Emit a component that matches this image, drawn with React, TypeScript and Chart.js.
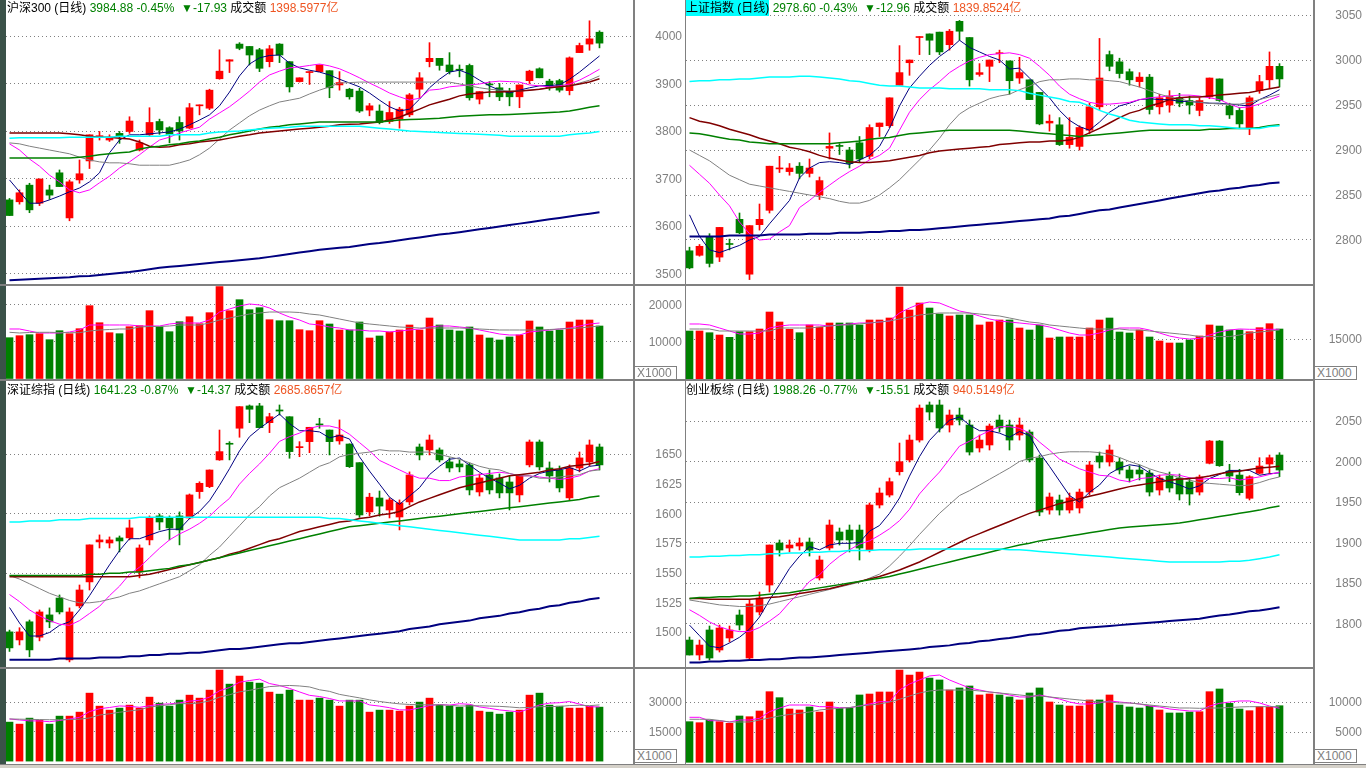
import React, { useEffect, useRef } from "react";
import { Chart, registerables } from "chart.js";

Chart.register(...registerables);

// ---------------- 沪深300 ----------------
const hs300Open = [3655,3651,3686,3648,3676,3712,3617,3697,3737,3788,3781,3795,3799,3760,3792,3820,3807,3818,3806,3853,3848,3910,3947,3983,3978,3971,3946,3983,3946,3904,3923,3925,3927,3897,3888,3884,3844,3842,3820,3825,3834,3888,3946,3953,3939,3930,3938,3867,3899,3891,3883,3872,3906,3931,3905,3906,3885,3965,3983,4008];
const hs300High = [3658,3676,3690,3699,3686,3718,3697,3739,3792,3799,3792,3799,3830,3781,3849,3825,3809,3830,3858,3855,3888,3971,3950,3986,3978,3974,3980,3984,3946,3912,3925,3939,3927,3925,3890,3890,3858,3855,3862,3850,3879,3923,3986,3953,3965,3939,3941,3883,3904,3900,3890,3897,3928,3933,3909,3909,3956,3985,4032,4011];
const hs300Low = [3622,3646,3628,3643,3656,3683,3611,3690,3721,3781,3778,3774,3795,3758,3790,3793,3775,3781,3805,3834,3845,3909,3923,3971,3939,3925,3935,3944,3882,3903,3898,3925,3870,3886,3867,3839,3832,3815,3816,3806,3830,3870,3935,3928,3920,3914,3865,3857,3872,3864,3853,3849,3900,3912,3886,3882,3876,3965,3970,3975];
const hs300Close = [3622,3670,3634,3699,3665,3683,3693,3710,3792,3790,3785,3788,3821,3775,3818,3802,3793,3800,3849,3855,3886,3926,3950,3974,3960,3932,3973,3960,3893,3912,3925,3939,3891,3902,3872,3842,3853,3818,3839,3846,3876,3912,3953,3938,3925,3928,3870,3883,3897,3872,3872,3897,3926,3912,3891,3886,3954,3980,3994,3985];
const hs300Ma5 = [3697,3672,3648,3648,3655,3663,3672,3680,3693,3712,3754,3781,3792,3792,3794,3796,3798,3804,3813,3823,3834,3853,3882,3916,3941,3954,3959,3960,3943,3933,3928,3924,3918,3909,3901,3893,3880,3865,3851,3842,3846,3867,3891,3909,3924,3928,3920,3907,3895,3886,3880,3886,3891,3895,3896,3897,3909,3924,3941,3958];
const hs300Ma10 = [3773,3760,3741,3726,3707,3693,3676,3670,3676,3691,3705,3722,3735,3750,3766,3781,3787,3796,3802,3808,3825,3838,3851,3867,3884,3903,3918,3926,3933,3935,3938,3941,3937,3931,3922,3912,3901,3891,3880,3872,3865,3869,3886,3888,3893,3895,3897,3899,3903,3905,3904,3903,3897,3895,3893,3895,3899,3907,3918,3930];
const hs300Ma20 = [3775,3773,3768,3764,3760,3756,3752,3745,3739,3735,3733,3733,3731,3728,3728,3728,3728,3733,3739,3750,3764,3783,3802,3817,3832,3844,3853,3861,3865,3869,3878,3886,3893,3901,3902,3903,3903,3903,3903,3903,3903,3903,3903,3903,3903,3899,3895,3891,3888,3886,3884,3884,3886,3888,3891,3893,3895,3901,3907,3916];
const hs300Ma30 = [3796,3796,3796,3796,3796,3796,3794,3792,3789,3787,3787,3785,3783,3777,3768,3766,3767,3771,3773,3777,3779,3781,3785,3789,3792,3796,3798,3800,3802,3804,3806,3808,3810,3813,3814,3815,3817,3819,3823,3829,3838,3846,3855,3861,3867,3874,3878,3880,3882,3882,3883,3884,3886,3888,3891,3893,3895,3899,3903,3910];
const hs300Ma60 = [3743,3743,3743,3743,3743,3743,3743,3745,3747,3750,3752,3754,3756,3762,3766,3768,3771,3773,3777,3779,3783,3787,3792,3796,3800,3804,3808,3810,3813,3815,3817,3819,3819,3819,3819,3819,3819,3819,3821,3823,3824,3825,3826,3827,3829,3831,3832,3833,3834,3834,3835,3836,3837,3838,3839,3840,3842,3846,3850,3853];
const hs300Ma120 = [3785,3786,3786,3786,3786,3786,3787,3787,3787,3787,3787,3789,3789,3789,3789,3789,3792,3792,3792,3792,3796,3798,3799,3800,3802,3804,3806,3807,3808,3810,3810,3810,3810,3810,3810,3810,3808,3806,3804,3802,3800,3799,3798,3797,3796,3795,3794,3793,3792,3791,3789,3789,3789,3789,3789,3789,3792,3794,3796,3799];
const hs300Ma250 = [3486,3487,3488,3489,3490,3491,3492,3494,3495,3497,3499,3501,3503,3506,3509,3512,3514,3516,3518,3520,3522,3524,3526,3528,3530,3532,3535,3538,3541,3544,3547,3550,3552,3554,3556,3559,3562,3564,3567,3570,3573,3576,3579,3582,3584,3587,3590,3593,3596,3599,3602,3605,3608,3611,3614,3617,3620,3623,3626,3629];
const hs300Vol = [11030,11570,11840,12110,10490,12920,12110,13460,19680,15080,12380,12110,14000,14270,18330,14000,12650,15350,16700,14810,17790,24810,18330,21300,18600,19140,15890,15620,15620,13190,12920,15620,14730,13110,13110,15270,10950,11490,12570,13110,14460,13110,16350,14460,13110,12840,13920,11760,10950,10410,11220,11760,15540,13920,12840,13110,15270,15810,15810,14190];
const hs300VolMa5 = [13380,13380,12840,12300,12300,12300,12570,13110,14460,14460,14460,14460,14460,14190,14190,14190,14730,15000,15000,15000,15810,17970,18790,19600,20140,19870,19060,17700,16620,15810,14730,14460,13920,13650,13110,13110,12840,12840,12570,12840,13110,13380,13920,14190,14190,13920,13650,13110,12570,12030,11760,11760,12570,12840,13110,13380,13650,14190,14730,15000];
const hs300VolMa10 = [12490,12300,12430,12490,12490,12430,12380,12380,12840,13110,13240,13380,13380,13920,14060,14060,14190,14460,14460,14460,15000,15810,16350,16890,17430,17700,17970,17970,17970,17840,17430,17160,16620,16080,15540,15000,14730,14460,14190,13920,13790,13650,13650,13650,13650,13650,13510,13380,13240,13110,13110,13110,13110,13110,13240,13380,13510,13650,13920,14190];

// ---------------- 上证指数 ----------------
const shOpen = [2788,2783,2804,2781,2796,2823,2762,2817,2833,2879,2876,2882,2874,2850,2902,2905,2900,2908,2893,2926,2927,2972,2997,3025,3029,3031,3017,3043,3025,2984,2993,3007,2999,2980,2978,2964,2930,2928,2906,2904,2922,2948,3006,2998,2987,2976,2981,2948,2950,2958,2955,2944,2959,2979,2949,2944,2924,2966,2978,2993];
const shHigh = [2792,2795,2807,2814,2801,2830,2816,2840,2882,2893,2885,2886,2890,2870,2919,2907,2903,2915,2928,2930,2958,3016,3000,3026,3029,3031,3034,3044,3025,2996,3000,3011,2999,3003,2978,2964,2939,2936,2936,2927,2952,3024,3010,3002,2990,2986,2984,2962,2966,2963,2960,2958,2980,2979,2952,2947,2960,2983,3009,2996];
const shLow = [2768,2782,2770,2776,2789,2807,2756,2811,2830,2875,2872,2868,2870,2845,2890,2895,2880,2886,2890,2915,2925,2972,2983,3006,3006,3006,3011,3022,2971,2982,2976,2997,2962,2974,2956,2928,2921,2905,2902,2900,2918,2945,2988,2980,2972,2970,2940,2940,2942,2948,2940,2938,2957,2954,2935,2924,2917,2963,2969,2970];
const shClose = [2769,2793,2774,2814,2795,2808,2816,2823,2882,2880,2880,2874,2880,2866,2904,2904,2885,2890,2925,2930,2958,2986,3000,3026,3022,3009,3032,3032,2978,2986,3000,3008,2977,2986,2956,2929,2932,2906,2914,2925,2948,2980,2993,2985,2978,2981,2945,2958,2960,2952,2950,2955,2980,2955,2939,2929,2958,2976,2993,2979];
const shMa5 = [2828,2804,2789,2786,2790,2794,2800,2804,2818,2831,2844,2869,2880,2886,2887,2886,2884,2889,2894,2904,2924,2949,2969,2982,2994,3004,3012,3022,3014,3009,3004,3000,2990,2991,2980,2969,2958,2944,2933,2926,2922,2931,2942,2949,2952,2956,2957,2956,2956,2954,2954,2953,2952,2952,2951,2950,2949,2956,2961,2967];
const shMa10 = [2883,2873,2863,2850,2838,2820,2807,2800,2801,2809,2816,2836,2844,2853,2861,2869,2876,2882,2889,2894,2902,2922,2942,2956,2967,2976,2986,2993,2999,3003,3006,3007,3008,3006,3002,2993,2983,2971,2962,2957,2953,2951,2951,2952,2953,2956,2958,2959,2960,2961,2961,2960,2958,2956,2951,2947,2948,2951,2956,2960];
const shMa20 = [2900,2894,2888,2880,2872,2867,2862,2860,2858,2856,2854,2852,2850,2848,2846,2843,2841,2841,2844,2850,2858,2867,2878,2889,2900,2913,2928,2940,2947,2952,2957,2960,2962,2967,2971,2976,2978,2978,2979,2979,2978,2978,2977,2976,2973,2970,2966,2962,2959,2957,2954,2953,2952,2951,2951,2951,2953,2956,2959,2962];
const shMa30 = [2936,2932,2930,2927,2923,2920,2917,2913,2910,2907,2903,2901,2898,2894,2891,2889,2887,2886,2886,2887,2888,2890,2892,2894,2897,2899,2900,2901,2902,2903,2904,2906,2907,2908,2909,2909,2910,2910,2911,2914,2919,2924,2930,2936,2941,2944,2949,2952,2956,2958,2959,2959,2960,2961,2962,2963,2964,2966,2968,2970];
const shMa60 = [2919,2918,2916,2914,2912,2911,2909,2908,2907,2907,2907,2907,2907,2907,2907,2908,2909,2910,2912,2913,2914,2916,2918,2919,2920,2921,2922,2922,2922,2922,2922,2922,2922,2921,2920,2919,2918,2917,2916,2915,2916,2917,2918,2919,2920,2921,2922,2922,2922,2922,2922,2922,2923,2923,2924,2924,2924,2925,2927,2928];
const shMa120 = [2976,2977,2977,2978,2978,2979,2979,2980,2981,2981,2981,2982,2982,2981,2980,2979,2977,2976,2974,2972,2971,2971,2970,2969,2969,2969,2968,2968,2968,2968,2967,2967,2967,2966,2963,2961,2959,2957,2954,2953,2949,2944,2940,2937,2933,2931,2930,2929,2928,2928,2928,2927,2927,2926,2925,2924,2924,2924,2926,2927];
const shMa250 = [2804,2804,2804,2804,2805,2805,2805,2805,2806,2806,2806,2806,2807,2807,2807,2808,2808,2808,2809,2809,2810,2810,2811,2811,2812,2813,2814,2815,2816,2817,2818,2819,2820,2821,2822,2823,2824,2826,2827,2829,2831,2833,2834,2836,2838,2840,2842,2844,2846,2848,2850,2852,2854,2855,2857,2858,2860,2861,2863,2864];
const shVol = [17960,17960,17330,16480,15630,17700,17700,18700,25000,21300,18590,17330,20190,19440,20930,20930,20930,20190,22040,22040,22780,34260,25740,28330,26480,24260,23520,23890,23890,20190,21300,22040,22040,19070,18330,20190,15370,15740,15740,15740,19070,22040,22780,17590,17220,18330,15740,14260,13520,13520,14630,16110,20190,19810,18330,18330,17700,19190,20670,18700];
const shVolMa5 = [20560,20560,20190,19070,17960,16850,16850,17220,19070,19810,20190,20190,20190,20190,19810,20190,20560,20930,20930,21300,21670,24630,26480,27960,28700,28330,26850,25370,24630,23520,22410,21670,21300,20930,20560,20190,19440,18330,17220,16480,16480,17220,18330,19070,19070,19070,18330,17220,16110,15370,15000,15260,16480,17590,18330,18700,18590,18590,18590,18590];
const shVolMa10 = [18700,18700,18700,17960,17960,17960,17960,17960,17960,19070,19070,19070,19070,19440,19810,20190,20190,20560,20930,21300,21670,22410,23150,23890,24260,24630,24630,24630,24630,24260,23890,23520,22780,22040,21300,20930,20190,19810,19440,19070,18700,18700,18700,18700,18330,18330,17960,17590,17220,16850,16480,15890,15890,15890,15890,16480,17220,17590,17960,18330];

// ---------------- 深证综指 ----------------
const szOpen = [1500.5,1493.7,1509,1496,1514.8,1529,1476.9,1522.4,1542.6,1576.3,1575.4,1579.7,1579.7,1551,1578,1598.2,1596.5,1598.2,1596.5,1618.7,1622.9,1645.4,1659.4,1672.1,1690.9,1690.9,1676.8,1687.5,1681.8,1655.7,1660.8,1675.7,1670.6,1661.4,1658.8,1643.1,1601.6,1613.3,1603.2,1597.3,1610,1656.3,1653.8,1653.8,1643.7,1642,1641.2,1618.4,1632.7,1630.2,1626.8,1615.9,1641.2,1660.5,1638.6,1636.9,1613.4,1638.6,1643.7,1656.3];
const szHigh = [1502,1504,1510.5,1519,1520.7,1531.6,1520.7,1540,1573.8,1582.2,1580.5,1581.3,1594.8,1573.8,1598.2,1599.9,1598.2,1601.6,1616.7,1627,1637,1670.6,1660.8,1690.3,1691.7,1693.1,1684.7,1691.7,1681.8,1660.8,1672.9,1680.5,1670.6,1679.1,1659,1643.1,1617.3,1619.2,1613.4,1611.7,1635.3,1658.8,1666.4,1655.5,1647.1,1645.4,1642.8,1633.6,1636.9,1633.6,1631.9,1632.7,1662.2,1662.2,1643.7,1640.3,1641.2,1652.1,1662.2,1658.8];
const szLow = [1484,1489.5,1479.5,1492.9,1504,1515.6,1475.2,1520.7,1535.8,1571.2,1571.2,1567.9,1578,1546,1573.8,1586.4,1578,1573.8,1595.7,1613,1622,1645,1645.4,1664.5,1676.8,1672.6,1668.4,1683.3,1646.8,1648.1,1651.5,1672.1,1649.6,1658.6,1639,1597,1598.2,1598,1596.5,1586.4,1607.5,1645.4,1649.6,1643.7,1635.3,1635.3,1615.9,1615,1616.7,1613.4,1603.2,1610,1639.5,1636.9,1626.8,1618.4,1611.7,1635.3,1640.3,1636.9];
const szClose = [1487,1500.5,1485.3,1517.3,1508.9,1517.3,1517.3,1535.8,1573.8,1578,1578,1577.1,1588.1,1571.2,1596.5,1593.1,1588.1,1586.4,1615.9,1625.7,1636.9,1652.4,1658.6,1690.3,1688.1,1672.6,1681.8,1686.6,1652.4,1656.6,1672.9,1674.9,1660.8,1666.4,1639.7,1599,1614,1606.5,1611.7,1609.2,1632.7,1649.6,1662.2,1645.4,1638.6,1639.5,1620.1,1630.2,1620.1,1617.6,1617.6,1632.7,1660.5,1639.5,1631.9,1621.8,1638.6,1647.1,1658,1641.2];
const szMa5 = [1521,1508,1497,1497,1500,1506,1509,1519,1531,1544,1557,1569,1579,1579,1582,1585,1587,1587,1596,1602,1611,1624,1638,1653,1665,1672,1678,1684,1676,1670,1670,1669,1664,1666,1663,1648,1636,1625,1614,1608,1615,1622,1633,1640,1646,1647,1641,1635,1630,1626,1621,1624,1630,1634,1636,1637,1639,1636,1640,1641];
const szMa10 = [1532,1526,1519,1514,1510,1507,1506,1510,1516,1522,1531,1539,1549,1555,1563,1571,1578,1583,1587,1592,1598,1606,1613,1625,1634,1642,1651,1661,1665,1668,1672,1674,1674,1672,1667,1660,1653,1645,1641,1637,1633,1630,1630,1628,1628,1631,1632,1633,1634,1635,1634,1632,1632,1631,1630,1629,1630,1632,1636,1638];
const szMa20 = [1548,1545,1541,1537,1533,1530,1527,1525,1525,1526,1528,1530,1533,1535,1538,1541,1544,1547,1552,1557,1565,1572,1581,1590,1599,1606,1615,1622,1626,1630,1635,1640,1643,1648,1650,1651,1652,1654,1653,1653,1652,1652,1652,1650,1648,1646,1643,1640,1638,1637,1634,1632,1632,1630,1630,1631,1632,1633,1636,1637];
const szMa30 = [1547,1547,1547,1547,1547,1547,1547,1547,1547,1547,1547,1547,1547,1548,1549,1551,1553,1555,1557,1559,1561,1563,1566,1568,1571,1574,1577,1579,1582,1585,1587,1589,1591,1593,1594,1596,1597,1599,1600,1602,1606,1610,1613,1616,1619,1622,1624,1626,1628,1630,1632,1633,1634,1635,1637,1638,1640,1641,1642,1644];
const szMa60 = [1548,1548,1548,1548,1548,1548,1548,1548,1549,1549,1550,1550,1551,1551,1552,1553,1554,1556,1557,1559,1561,1563,1565,1567,1569,1571,1573,1575,1577,1579,1581,1583,1585,1587,1589,1590,1591,1592,1593,1594,1595,1596,1597,1598,1599,1600,1601,1602,1603,1604,1605,1606,1607,1608,1609,1610,1611,1612,1614,1615];
const szMa120 = [1593,1593,1594,1594,1594,1595,1595,1595,1596,1596,1596,1596,1596,1597,1597,1597,1597,1597,1597,1597,1597,1597,1597,1597,1597,1597,1597,1597,1597,1597,1597,1597,1596,1596,1595,1594,1593,1592,1591,1590,1589,1588,1587,1586,1585,1584,1583,1582,1581,1580,1579,1578,1578,1578,1578,1578,1579,1579,1580,1581];
const szMa250 = [1477,1477,1477,1477,1477,1478,1478,1478,1478,1479,1479,1479,1480,1480,1481,1481,1482,1482,1483,1483,1484,1485,1486,1486,1487,1488,1489,1490,1491,1491,1492,1493,1494,1495,1496,1497,1498,1499,1500,1501,1503,1504,1505,1507,1508,1509,1510,1512,1513,1514,1516,1517,1519,1520,1522,1523,1525,1526,1528,1529];
const szVol = [19890,18870,21930,20910,18870,22950,22950,24990,34680,28050,26010,27030,28560,27030,32640,29580,28050,31110,33660,32130,36210,46410,39270,43350,40290,39780,35190,34170,36210,31110,31110,32130,31110,28050,31110,31110,24990,26010,26010,25500,28050,30090,32130,28560,28050,27540,28560,25500,24990,23970,24990,26010,33660,34680,28560,28050,27030,27030,28050,27540];
const szVolMa5 = [21500,21000,20500,20500,20100,20700,21500,22330,25250,26720,27340,28140,27930,27440,28250,28970,29180,29680,30610,31010,32630,35900,37540,40250,41100,41820,39570,38570,37110,35290,33560,32940,31930,30700,30700,30700,28670,28050,27240,26120,26110,27130,28350,28870,28560,29270,28970,27640,26930,26110,25600,25090,26720,28660,29580,29790,30390,29070,27740,27640];
const szVolMa10 = [21500,21400,21300,21200,21100,21100,21200,21400,22000,23510,24120,24930,25590,26200,27580,28240,28750,29360,29260,29670,30690,32630,33850,35330,36090,37110,38020,38330,38590,38340,37830,36400,35580,34050,33130,32260,31240,30420,29760,29200,28900,28700,28700,28750,28450,28100,28160,28210,28080,27930,27620,27210,27360,27770,27830,27880,28330,28480,28300,28660];

// ---------------- 创业板综 ----------------
const cyOpen = [1779.6,1761.1,1792,1767.3,1782.1,1810.5,1757.4,1814.2,1847.5,1899.4,1893.2,1895.7,1900.6,1856.2,1893.2,1913,1915.4,1915.4,1890.7,1946.3,1958.6,1987.4,2001.9,2026.5,2069.8,2069.8,2045.1,2057.4,2045.1,2016.7,2020.4,2051.2,2045.1,2032.7,2036.4,2004.3,1940.1,1952.5,1940.1,1942.6,1962.3,2006.8,1999.4,1999.4,1989.5,1989.5,1985.8,1964.8,1982.1,1979.6,1974.7,1962.3,1997.8,2025.3,1988.3,1983.3,1954.6,1985.4,1996.9,2008];
const cyHigh = [1783.3,1779.6,1796.9,1798.1,1796.9,1816.7,1829,1838.9,1896.9,1903.1,1903.1,1905.6,1905.6,1883.3,1927.8,1917.9,1921.6,1921.6,1948.8,1967.3,1979.6,2022.8,2032.7,2069.8,2073.5,2075.9,2063.6,2066,2051.2,2032.7,2046.3,2057.4,2051.2,2053.7,2038.9,2008,1961.1,1958.6,1961.1,1966,2000,2011.7,2020.4,2004.3,1994.4,1995.7,1989.5,1983.3,1987,1984.6,1979.6,1983.3,2026,2026,1996.5,1990.4,1982.5,2004.7,2008,2010.9];
const cyLow = [1761.1,1755,1755,1764.8,1777.2,1792,1755,1810.5,1838.9,1883.3,1888.3,1890.7,1883.3,1853.7,1890.7,1896.9,1888.3,1878.4,1888.3,1942.6,1956.2,1983.3,1999.4,2024,2051.2,2036.4,2036.4,2045.1,2008,2011.7,2014.2,2036.4,2014.2,2026.5,1999.4,1933,1935,1933.9,1936.4,1936.4,1958.6,1992,1994.4,1984.6,1974.7,1977.2,1957.4,1958.6,1962.3,1952.5,1946.3,1958.6,1997,1994,1975.1,1958.6,1952.5,1984.6,1985.4,1981.2];
const cyClose = [1761.1,1773.4,1757.4,1794.4,1792,1798.1,1824.1,1831.5,1896.9,1890.7,1896.9,1899.4,1890.7,1878.4,1921.6,1903.1,1903.1,1893.2,1946.3,1961.1,1975.1,1999.8,2026.5,2066,2061.1,2041.4,2057.4,2051.2,2011.7,2026.5,2043.8,2041.4,2026.5,2045.1,2001.9,1937.6,1956.2,1940.1,1955,1962.3,1995.7,1999.4,2014.2,1989.5,1979.6,1984.6,1962.3,1979.6,1967.3,1959.9,1959.9,1980.9,2025.3,1994.8,1982.1,1961.5,1981.2,1994.4,2004.7,1989.5];
const cyMa5 = [1798,1785,1772,1770,1776,1783,1793,1808,1829,1848,1868,1883,1895,1891,1897,1899,1899,1900,1914,1921,1936,1955,1982,2006,2026,2039,2051,2055,2045,2038,2038,2035,2030,2037,2032,2011,1994,1976,1958,1950,1962,1971,1985,1992,1996,1994,1986,1979,1975,1971,1966,1970,1979,1984,1989,1989,1989,1983,1985,1986];
const cyMa10 = [1817,1810,1802,1796,1792,1790,1790,1795,1803,1812,1826,1838,1852,1860,1873,1883,1891,1898,1902,1909,1917,1927,1941,1960,1974,1987,2003,2019,2025,2032,2038,2043,2043,2041,2035,2024,2014,2003,1997,1991,1987,1983,1982,1977,1975,1979,1980,1983,1984,1983,1980,1978,1979,1979,1980,1977,1979,1981,1984,1987];
const cyMa20 = [1829,1827,1825,1823,1822,1821,1821,1822,1824,1827,1830,1833,1836,1839,1842,1845,1848,1851,1856,1861,1871,1883,1896,1910,1923,1936,1947,1958,1964,1971,1978,1985,1992,2000,2004,2006,2009,2011,2012,2012,2012,2011,2009,2005,2000,1996,1991,1987,1984,1980,1977,1974,1973,1972,1971,1970,1971,1974,1978,1981];
const cyMa30 = [1831,1831,1830,1830,1830,1830,1830,1831,1832,1833,1835,1837,1839,1841,1843,1846,1849,1852,1855,1858,1862,1866,1871,1876,1882,1888,1894,1900,1906,1911,1916,1921,1926,1931,1936,1940,1944,1948,1951,1954,1957,1960,1963,1966,1969,1971,1973,1975,1977,1978,1979,1980,1982,1985,1987,1988,1990,1992,1993,1994];
const cyMa60 = [1831,1832,1832,1833,1833,1834,1834,1835,1836,1837,1838,1840,1842,1844,1846,1848,1850,1852,1854,1856,1858,1861,1864,1867,1870,1873,1876,1879,1882,1885,1888,1891,1894,1897,1899,1902,1904,1906,1908,1910,1912,1914,1916,1918,1919,1920,1921,1922,1923,1924,1926,1928,1930,1932,1934,1936,1938,1940,1943,1945];
const cyMa120 = [1882,1882,1883,1883,1884,1884,1885,1885,1886,1886,1887,1887,1888,1888,1889,1889,1890,1890,1890,1891,1891,1891,1891,1892,1892,1892,1892,1892,1892,1892,1892,1892,1891,1891,1890,1889,1888,1887,1886,1885,1884,1883,1882,1881,1880,1879,1878,1877,1876,1876,1876,1876,1876,1876,1877,1877,1878,1880,1882,1885];
const cyMa250 = [1752,1752,1753,1753,1754,1754,1755,1755,1756,1756,1757,1758,1758,1759,1760,1761,1762,1763,1764,1765,1766,1767,1768,1769,1771,1772,1773,1775,1776,1778,1779,1781,1782,1784,1786,1787,1789,1791,1792,1794,1795,1796,1797,1798,1799,1800,1801,1802,1803,1804,1805,1806,1808,1810,1811,1813,1815,1816,1818,1820];
const cyVol = [6770,6600,7050,6770,6500,7720,7600,8550,11770,10770,8880,8720,9220,8380,10050,9000,9100,11220,11380,11720,11720,15380,14550,15050,14050,13720,12050,12390,12720,11220,11390,11220,10890,10390,11550,12390,10050,9550,9380,9380,10390,10390,11220,9550,9220,9050,9380,8720,8220,8220,8380,8430,11770,12220,9830,8880,8600,9270,9170,9430];
const cyVolMa5 = [7500,7500,6930,6930,6720,7050,7050,7330,8430,9050,9550,9550,9550,9270,9270,9100,9100,9380,9720,10100,10100,12050,13050,13720,14390,14550,13720,13050,12390,12050,11720,11550,11220,10890,10890,11220,10890,10550,10050,9720,9720,9890,10220,10050,9890,9720,9380,9220,8890,8720,8550,8550,9380,9830,10050,10220,10220,9890,9380,9000];
const cyVolMa10 = [7170,7170,7170,6970,6720,6720,6720,7050,7380,7720,7970,8170,8380,8720,8880,9000,9130,9380,9550,9720,10050,10500,11050,11550,11890,12050,12050,12050,12050,11890,11720,11550,11390,11220,11050,11050,10890,10720,10550,10390,10220,10050,10050,9890,9890,9720,9550,9380,9220,9050,9050,9000,9050,9050,9130,9220,9270,9270,9270,9270];

// ---------------- axis ticks ----------------
const hs300PriceTicks = [3500, 3600, 3700, 3800, 3900, 4000];
const hs300VolTicks = [10000, 20000];
const shPriceTicks = [2800, 2850, 2900, 2950, 3000, 3050];
const shVolTicks = [15000];
const szPriceGrid = [1500, 1550, 1600, 1650];
const szPriceLabels = [1500, 1525, 1550, 1575, 1600, 1625, 1650];
const szVolTicks = [15000, 30000];
const cyPriceTicks = [1800, 1850, 1900, 1950, 2000, 2050];
const cyVolTicks = [5000, 10000];

const RED = "#ff0000";
const GREEN = "#008000";
const NAVY = "#000080";
const MAGENTA = "#ff00ff";
const GRAY = "#808080";
const MAROON = "#800000";
const CYAN = "#00ffff";

const PLOT_W = 628;
const AXIS_W = 50;
const CANVAS_W = PLOT_W + AXIS_W;
const X_MIN = -0.35;
const SLOTS = 62.8;

function labelPlugin(values: number[]) {
  return {
    id: "rightLabels",
    afterDraw(chart: any) {
      const { ctx, chartArea, scales } = chart;
      ctx.save();
      ctx.font = '12px "Liberation Sans", Arial, sans-serif';
      ctx.fillStyle = "#808080";
      ctx.textAlign = "right";
      ctx.textBaseline = "middle";
      for (const v of values) {
        ctx.fillText(String(v), chartArea.right + 48, Math.round(scales.y.getPixelForValue(v)) + 1);
      }
      ctx.restore();
    },
  };
}

function yAxis(min: number, max: number, grid: number[]) {
  return {
    type: "linear",
    position: "right",
    min,
    max,
    afterBuildTicks: (a: any) => {
      a.ticks = grid.map((v) => ({ value: v }));
    },
    afterFit: (a: any) => {
      a.width = AXIS_W;
      a.paddingTop = 0;
      a.paddingBottom = 0;
    },
    ticks: { display: false },
    grid: { color: "#808080", drawTicks: false, lineWidth: 1 },
    border: { display: false, dash: [1, 3] },
  };
}

function baseOptions(yMin: number, yMax: number, grid: number[]) {
  return {
    responsive: false,
    animation: false,
    events: [],
    layout: { padding: 0 },
    plugins: { legend: { display: false }, tooltip: { enabled: false }, title: { display: false } },
    scales: {
      x: { type: "linear", min: X_MIN, max: X_MIN + SLOTS, display: false, offset: false, grid: { display: false } },
      y: yAxis(yMin, yMax, grid),
    },
  };
}

type Line = { data: number[]; color: string; width: number };

function lineSet(l: Line) {
  return {
    type: "line",
    data: l.data.map((v, i) => ({ x: i, y: v })),
    borderColor: l.color,
    borderWidth: l.width,
    pointRadius: 0,
    fill: false,
    tension: 0,
    order: 0,
  };
}

function candleColors(open: number[], close: number[]) {
  return close.map((c, i) => (c >= open[i] ? RED : GREEN));
}

function priceConfig(p: any) {
  const colors = candleColors(p.open, p.close);
  const datasets: any[] = p.lines.map(lineSet);
  datasets.push({
    type: "bar",
    data: p.low.map((l: number, i: number) => ({ x: i, y: [l, p.high[i]] })),
    backgroundColor: colors,
    barThickness: 1,
    grouped: false,
    minBarLength: 1,
    order: 2,
  });
  datasets.push({
    type: "bar",
    data: p.open.map((o: number, i: number) => ({ x: i, y: [Math.min(o, p.close[i]), Math.max(o, p.close[i])] })),
    backgroundColor: colors,
    barThickness: 7,
    grouped: false,
    minBarLength: 1,
    order: 1,
  });
  return {
    type: "bar",
    data: { datasets },
    options: baseOptions(p.pMin, p.pMax, p.pGrid),
    plugins: [labelPlugin(p.pLabels)],
  };
}

function volConfig(p: any) {
  const colors = candleColors(p.open, p.close);
  const datasets: any[] = p.volLines.map(lineSet);
  datasets.push({
    type: "bar",
    data: p.vol.map((v: number, i: number) => ({ x: i, y: v })),
    backgroundColor: colors,
    barThickness: 7,
    grouped: false,
    order: 1,
  });
  return {
    type: "bar",
    data: { datasets },
    options: baseOptions(p.vMin, p.vMax, p.vTicks),
    plugins: [labelPlugin(p.vTicks)],
  };
}

function ChartBox({ left, top, width, height, make }: any) {
  const ref = useRef<HTMLCanvasElement | null>(null);
  useEffect(() => {
    const chart = new Chart(ref.current as HTMLCanvasElement, make());
    return () => chart.destroy();
  }, []);
  return (
    <div style={{ position: "absolute", left, top, width, height }}>
      <canvas ref={ref} width={width} height={height} style={{ display: "block" }} />
    </div>
  );
}

function Title({ left, top, name, price, pct, chg, amount, highlight }: any) {
  return (
    <div
      style={{
        position: "absolute",
        left,
        top,
        font: '12px "Liberation Sans", "Noto Sans CJK SC", sans-serif',
        lineHeight: "16px",
        whiteSpace: "pre",
        zIndex: 5,
      }}
    >
      <span style={{ color: "#000", background: highlight ? "#00ffff" : "transparent", display: "inline-block", height: 16 }}>{name}</span>
      <span style={{ color: GREEN }}>{" " + price + " " + pct + "  "}</span>
      <span style={{ color: GREEN }}>{"▼" + chg}</span>
      <span style={{ color: "#000" }}>{" 成交额 "}</span>
      <span style={{ color: "#ee5522" }}>{amount}</span>
    </div>
  );
}

function UnitBox({ left, top }: any) {
  return (
    <div
      style={{
        position: "absolute",
        left,
        top,
        width: 39,
        height: 12,
        border: "1px solid #808080",
        color: "#808080",
        font: '12px "Liberation Sans", Arial, sans-serif',
        lineHeight: "12px",
        paddingLeft: 2,
        zIndex: 6,
        background: "#fff",
      }}
    >
      X1000
    </div>
  );
}

function Quadrant({ p }: any) {
  return (
    <>
      <ChartBox left={p.x} top={p.priceTop} width={CANVAS_W} height={p.priceH} make={() => priceConfig(p)} />
      <ChartBox left={p.x} top={p.volTop} width={CANVAS_W} height={p.volH} make={() => volConfig(p)} />
    </>
  );
}

function maLines(m5: number[], m10: number[], m20: number[], m30: number[], m60: number[], m120: number[], m250: number[]) {
  return [
    { data: m250, color: NAVY, width: 2 },
    { data: m120, color: CYAN, width: 1.5 },
    { data: m60, color: GREEN, width: 1.5 },
    { data: m30, color: MAROON, width: 1.5 },
    { data: m20, color: GRAY, width: 1 },
    { data: m10, color: MAGENTA, width: 1 },
    { data: m5, color: NAVY, width: 1 },
  ];
}

function volLines(m5: number[], m10: number[]) {
  return [
    { data: m10, color: GRAY, width: 1 },
    { data: m5, color: MAGENTA, width: 1 },
  ];
}

const quads = [
  {
    x: 6, priceTop: 0, priceH: 284, volTop: 286, volH: 94,
    open: hs300Open, high: hs300High, low: hs300Low, close: hs300Close,
    lines: maLines(hs300Ma5, hs300Ma10, hs300Ma20, hs300Ma30, hs300Ma60, hs300Ma120, hs300Ma250),
    pMin: 3477.9, pMax: 4075.8, pGrid: hs300PriceTicks, pLabels: hs300PriceTicks,
    vol: hs300Vol, volLines: volLines(hs300VolMa5, hs300VolMa10),
    vMin: -405, vMax: 25000, vTicks: hs300VolTicks,
  },
  {
    x: 686, priceTop: 0, priceH: 284, volTop: 286, volH: 94,
    open: shOpen, high: shHigh, low: shLow, close: shClose,
    lines: maLines(shMa5, shMa10, shMa20, shMa30, shMa60, shMa120, shMa250),
    pMin: 2751.1, pMax: 3066.7, pGrid: shPriceTicks, pLabels: shPriceTicks,
    vol: shVol, volLines: volLines(shVolMa5, shVolMa10),
    vMin: -185, vMax: 34630, vTicks: shVolTicks,
  },
  {
    x: 6, priceTop: 381, priceH: 286, volTop: 669, volH: 95,
    open: szOpen, high: szHigh, low: szLow, close: szClose,
    lines: maLines(szMa5, szMa10, szMa20, szMa30, szMa60, szMa120, szMa250),
    pMin: 1470.9, pMax: 1711.9, pGrid: szPriceGrid, pLabels: szPriceLabels,
    vol: szVol, volLines: volLines(szVolMa5, szVolMa10),
    vMin: -1479, vMax: 46990, vTicks: szVolTicks,
  },
  {
    x: 686, priceTop: 381, priceH: 286, volTop: 669, volH: 95,
    open: cyOpen, high: cyHigh, low: cyLow, close: cyClose,
    lines: maLines(cyMa5, cyMa10, cyMa20, cyMa30, cyMa60, cyMa120, cyMa250),
    pMin: 1746.3, pMax: 2099.4, pGrid: cyPriceTicks, pLabels: cyPriceTicks,
    vol: cyVol, volLines: volLines(cyVolMa5, cyVolMa10),
    vMin: -283, vMax: 15550, vTicks: cyVolTicks,
  },
];

function Rule({ left, top, width, height, color = "#808080" }: any) {
  return <div style={{ position: "absolute", left, top, width, height, background: color, zIndex: 4 }} />;
}

export default function App() {
  return (
    <div style={{ position: "fixed", left: 0, top: 0, width: 1366, height: 768, background: "#fff", overflow: "hidden" }}>
      {quads.map((q, i) => (
        <Quadrant key={i} p={q} />
      ))}
      <Rule left={0} top={0} width={6} height={768} color="#3b5249" />
      <Rule left={633} top={0} width={2} height={765} />
      <Rule left={685} top={0} width={1} height={765} />
      <Rule left={1313} top={0} width={2} height={765} />
      <Rule left={0} top={284} width={1314} height={2} />
      <Rule left={0} top={379} width={1314} height={2} />
      <Rule left={0} top={667} width={1314} height={2} />
      <Rule left={0} top={764} width={1366} height={1} />
      <Rule left={0} top={765} width={1366} height={3} color="#d4d0c8" />
      <UnitBox left={634} top={366} />
      <UnitBox left={1314} top={366} />
      <UnitBox left={634} top={749} />
      <UnitBox left={1314} top={749} />
      <Title left={7} top={0} name="沪深300 (日线)" price="3984.88" pct="-0.45%" chg="-17.93" amount="1398.5977亿" />
      <Title left={686} top={0} name="上证指数 (日线)" price="2978.60" pct="-0.43%" chg="-12.96" amount="1839.8524亿" highlight />
      <Title left={7} top={382} name="深证综指 (日线)" price="1641.23" pct="-0.87%" chg="-14.37" amount="2685.8657亿" />
      <Title left={686} top={382} name="创业板综 (日线)" price="1988.26" pct="-0.77%" chg="-15.51" amount="940.5149亿" />
    </div>
  );
}
